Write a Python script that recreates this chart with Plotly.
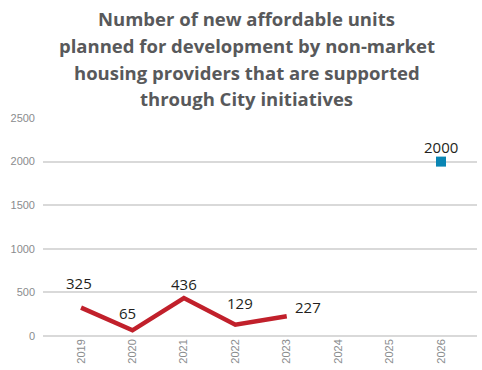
import plotly.graph_objects as go

# Units planned per year
years = ["2019", "2020", "2021", "2022", "2023", "2024", "2025", "2026"]
actual_years = ["2019", "2020", "2021", "2022", "2023"]
actual_units = [325, 65, 436, 129, 227]
target_years = ["2026"]
target_units = [2000]
y_ticks = [0, 500, 1000, 1500, 2000, 2500]

# pixel offsets of the value labels relative to their points
actual_label_shift = [(-2, 25), (-5, 17), (0, 14), (5, 22), (21, 9)]
target_label_shift = [(0, 15)]

TITLE_LINES = [
    "Number of new affordable units",
    "planned for development by non-market",
    "housing providers that are supported",
    "through City initiatives",
]
# vertical centre of each title line, in pixels above the plot area
title_line_shift = [100, 73, 46, 20]

label_font = dict(family="Open Sans, sans-serif", size=15, color="#231f20")
tick_font = dict(family="Liberation Sans Narrow, Arial Narrow, sans-serif", size=11, color="#8a8c8e")
title_font = dict(family="Open Sans, sans-serif", size=18.5, color="#58595b", weight="bold")

fig = go.Figure()
fig.add_trace(go.Scatter(
    x=actual_years, y=actual_units, mode="lines",
    line=dict(color="#c1202b", width=4.5), hoverinfo="skip",
))
fig.add_trace(go.Scatter(
    x=target_years, y=target_units, mode="markers",
    marker=dict(symbol="square", size=10, color="#0a86b4"), hoverinfo="skip",
))

for xs, ys, shifts in [(actual_years, actual_units, actual_label_shift),
                       (target_years, target_units, target_label_shift)]:
    for xv, yv, (dx, dy) in zip(xs, ys, shifts):
        fig.add_annotation(x=years.index(xv), y=yv, text=str(yv), showarrow=False,
                           xshift=dx, yshift=dy, font=label_font)

for line, dy in zip(TITLE_LINES, title_line_shift):
    fig.add_annotation(
        text=line, xref="paper", yref="paper", x=0.47, y=1.0, yshift=dy,
        xanchor="center", yanchor="middle", showarrow=False, font=title_font,
    )

fig.update_layout(
    width=482, height=370,
    margin=dict(l=43, r=5, t=118, b=34),
    paper_bgcolor="white", plot_bgcolor="white",
    showlegend=False,
    xaxis=dict(
        type="category", categoryorder="array", categoryarray=years,
        range=[-0.74, 7.7], showgrid=False, zeroline=False, showline=False,
        tickangle=-90, ticks="", tickfont=tick_font,
    ),
    yaxis=dict(
        range=[0, 2500], tickvals=y_ticks, showgrid=True, gridcolor="#d9d9d9", gridwidth=1.5,
        zeroline=True, zerolinecolor="#d9d9d9", zerolinewidth=1.5, showline=False,
        ticks="", ticklabelstandoff=7, tickfont=tick_font,
    ),
)

fig.write_html("out.html")
